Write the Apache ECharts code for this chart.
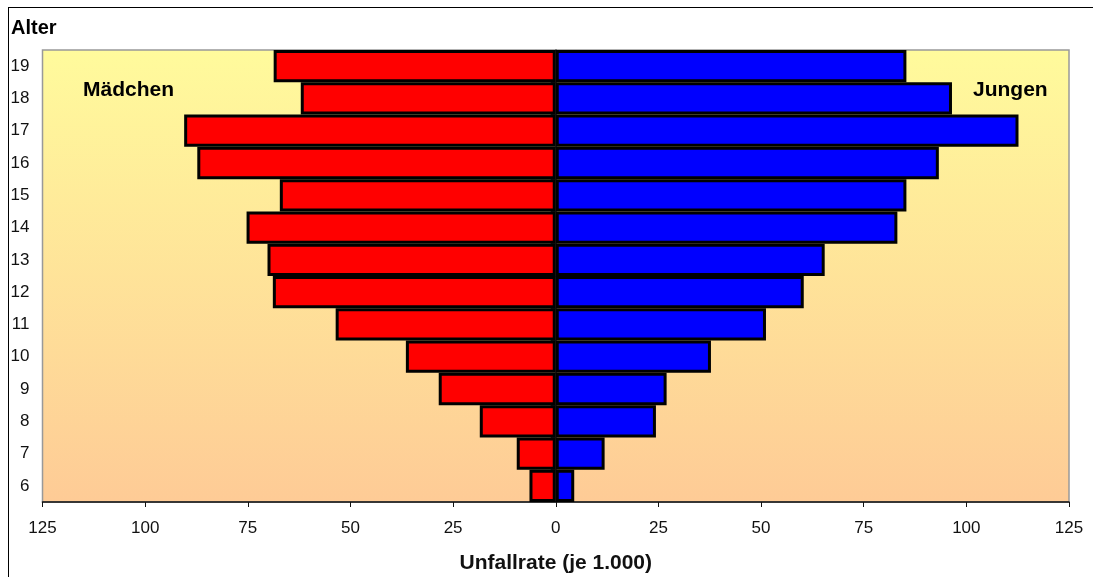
<!DOCTYPE html>
<html>
<head>
<meta charset="utf-8">
<script src="https://cdn.jsdelivr.net/npm/echarts@6/dist/echarts.min.js"></script>
<style>
html,body{margin:0;padding:0;background:#fff;}
#frame{position:absolute;left:8px;top:7px;width:1200px;height:700px;border-left:1px solid #000;border-top:1px solid #000;}
#chart{position:absolute;left:0;top:0;width:1093px;height:577px;}
</style>
</head>
<body>
<div id="frame"></div>
<div id="chart"></div>
<script>
const ages = ['6','7','8','9','10','11','12','13','14','15','16','17','18','19'];
const maedchen = [6.4, 9.5, 18.5, 28.5, 36.5, 53.6, 68.9, 70.2, 75.3, 67.2, 87.3, 90.5, 62.1, 68.7];
const jungen = [4.5, 11.9, 24.4, 27.0, 37.8, 51.2, 60.4, 65.5, 83.2, 85.4, 93.3, 112.7, 96.5, 85.4];
const xTicks = [-125, 125, 25];

const chart = echarts.init(document.getElementById('chart'), null, {renderer: 'canvas'});
const font = 'Liberation Sans, Arial, sans-serif';
chart.setOption({
  animation: false,
  textStyle: {fontFamily: font},
  grid: {
    left: 42.5, right: 24, top: 50, bottom: 75,
    outerBoundsMode: 'none',
    containLabel: false,
    show: true,
    borderColor: '#999',
    borderWidth: 1.5,
    backgroundColor: {
      type: 'linear', x: 0, y: 0, x2: 0, y2: 1,
      colorStops: [{offset: 0, color: '#FFFB9C'}, {offset: 1, color: '#FECB96'}]
    }
  },
  xAxis: {
    type: 'value',
    min: xTicks[0], max: xTicks[1], interval: xTicks[2],
    splitLine: {show: false},
    axisLine: {show: true, onZero: false, lineStyle: {color: '#111', width: 1.5}},
    axisTick: {show: true, length: 5, lineStyle: {color: '#111'}},
    axisLabel: {color: '#111', fontSize: 17, margin: 18, fontFamily: font,
      formatter: v => String(Math.abs(v))},
    name: 'Unfallrate (je 1.000)',
    nameLocation: 'middle',
    nameGap: 51,
    nameTextStyle: {color: '#111', fontSize: 21, fontWeight: 'bold', fontFamily: font}
  },
  yAxis: {
    type: 'category',
    data: ages,
    axisLine: {show: true, lineStyle: {color: '#333', width: 1.5}},
    axisTick: {show: true, length: 5, lineStyle: {color: '#333'}},
    axisLabel: {color: '#111', fontSize: 17, margin: 13, fontFamily: font},
    splitLine: {show: false}
  },
  series: [
    {
      name: 'Mädchen', type: 'bar',
      data: maedchen.map(v => -v),
      barCategoryGap: 0, barGap: '-100%',
      itemStyle: {color: '#FF0000', borderColor: '#000', borderWidth: 3}
    },
    {
      name: 'Jungen', type: 'bar',
      data: jungen,
      barCategoryGap: 0, barGap: '-100%',
      itemStyle: {color: '#0000FF', borderColor: '#000', borderWidth: 3}
    }
  ],
  graphic: [
    {type: 'text', left: 11, top: 18, style: {text: 'Alter', fontSize: 20, fontWeight: 'bold', fill: '#000', fontFamily: font}},
    {type: 'text', left: 83, top: 80, style: {text: 'Mädchen', fontSize: 21, fontWeight: 'bold', fill: '#000', fontFamily: font}},
    {type: 'text', left: 973, top: 80, style: {text: 'Jungen', fontSize: 21, fontWeight: 'bold', fill: '#000', fontFamily: font}}
  ]
});
</script>
</body>
</html>
